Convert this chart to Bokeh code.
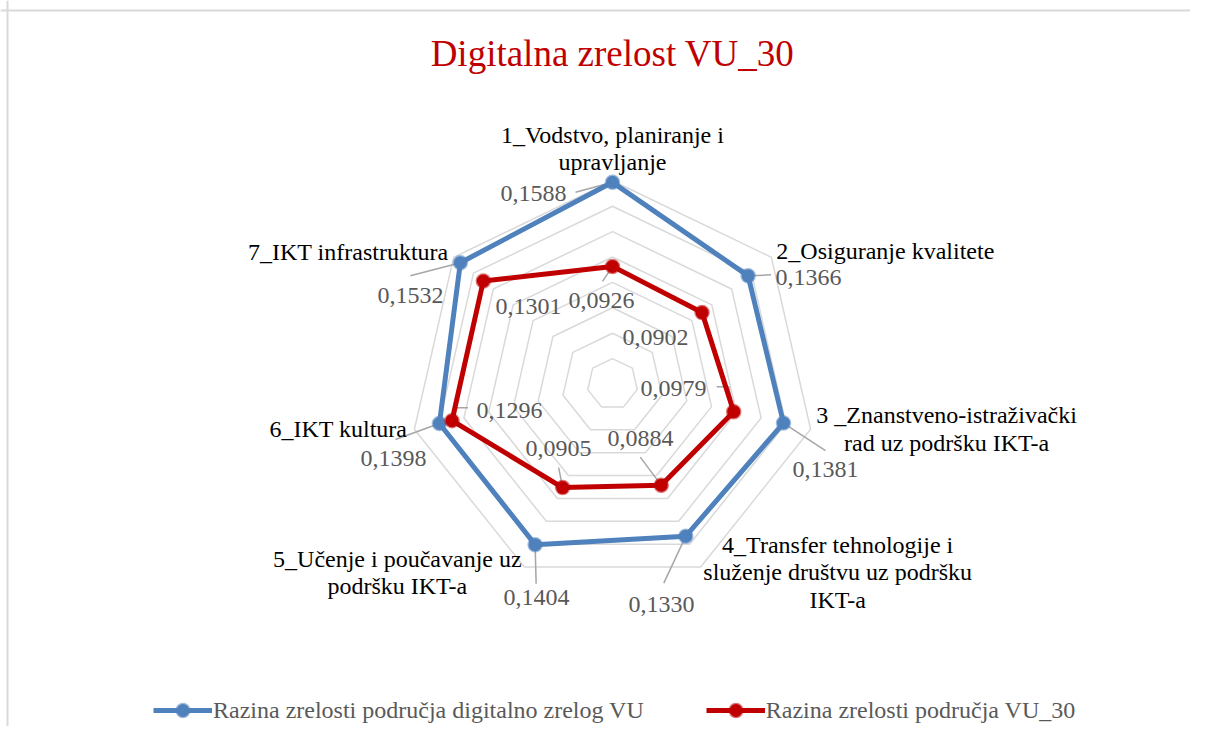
import numpy as np
from bokeh.plotting import figure
from bokeh.models import Range1d, Span, Legend, LegendItem, ColumnDataSource
from bokeh.core.properties import value
from bokeh.embed import file_html
from bokeh.resources import INLINE

# ---------------- data ----------------
title_text = "Digitalna zrelost VU_30"
categories = [
    "1_Vodstvo, planiranje i\nupravljanje",
    "2_Osiguranje kvalitete",
    "3 _Znanstveno-istraživački\nrad uz podršku IKT-a",
    "4_Transfer tehnologije i\nsluženje društvu uz podršku\nIKT-a",
    "5_Učenje i poučavanje uz\npodršku IKT-a",
    "6_IKT kultura",
    "7_IKT infrastruktura",
]
series_names = ["Razina zrelosti područja digitalno zrelog VU", "Razina zrelosti područja VU_30"]
digital_vu = [0.1588, 0.1366, 0.1381, 0.1330, 0.1404, 0.1398, 0.1532]
vu_30 = [0.0926, 0.0902, 0.0979, 0.0884, 0.0905, 0.1296, 0.1301]
ring_ticks = [0.02, 0.04, 0.06, 0.08, 0.10, 0.12, 0.14, 0.16]

# ---------------- style ----------------
W, H = 1190, 726
SCALE = 1270.0          # px per data unit
CX, CY = 612.0, 383.5   # centre inside the canvas (px from top-left)
FONT_NAME = "'Liberation Serif', 'Times New Roman', serif"
FONT = value(FONT_NAME)
BLUE, RED = "#4F81BD", "#C00000"
GRID = "#D9D9D9"
LABEL_GRAY = "#595959"
LEADER = "#A6A6A6"
LINE_STEP = 27.5        # px between lines of a category label

# category label: offset (px) of the block middle from outer-ring vertex, alignment
cat_off = [(0, -32.5), (5, -6), (136, 0), (137, 5), (-127, 5.4), (-7, 0), (-5, -5)]
cat_align = ["center", "left", "center", "center", "center", "right", "right"]

# data label offsets (px, left edge / vertical middle) from the point
blue_lab_off = [(-112, 11), (27.4, 1.7), (9, 46.5), (-57.3, 68), (-31.6, 52.9), (-79, 34.7), (-82.9, 32.5)]
red_lab_off = [(-44, 34.4), (-79.6, 25), (-93.2, -23.2), (-53.7, -46.7), (-37.1, -39), (24.5, -10.4), (12.2, 25.5)]
blue_leaders = [[(0, 0), (-37, 10)], [(0, 0), (23, -1)], [(0, 0), (42, 27.5)], [(0, 0), (-22, 47)],
                [(0, 0), (1, 39)], [(0, 0), (-44, 16)], [(0, 0), (-50, 13)]]
red_leaders = [[(0, 0), (-10, 15)], [], [(0, 0), (-5, -25), (-17, -25)], [(0, 0), (-21, -28)],
               [(0, 0), (-4, -20)], [(0, 0), (5, -13), (16, -13)], []]

# ---------------- figure ----------------
x0 = -CX / SCALE
y1 = CY / SCALE
p = figure(width=W, height=H, output_backend="svg", toolbar_location=None,
           x_range=Range1d(x0, x0 + W / SCALE), y_range=Range1d(y1 - H / SCALE, y1),
           min_border=0, outline_line_color=None)
p.axis.visible = False
p.grid.visible = False
p.background_fill_color = "white"
p.border_fill_color = "white"

n = len(categories)
theta = np.arange(n) * 2 * np.pi / n
sin_t, cos_t = np.sin(theta), np.cos(theta)

def polar(vals):
    v = np.asarray(vals)
    return v * sin_t, v * cos_t

# chart border (top and left)
p.add_layout(Span(location=y1 - 10 / SCALE, dimension="width", line_color=GRID, line_width=2))
p.add_layout(Span(location=x0 + 7 / SCALE, dimension="height", line_color=GRID, line_width=2))

# grid rings
ring_xs, ring_ys = [], []
for t in ring_ticks:
    gx, gy = polar([t] * n)
    ring_xs.append(list(gx) + [gx[0]])
    ring_ys.append(list(gy) + [gy[0]])
p.multi_line(ring_xs, ring_ys, line_color=GRID, line_width=1.5)

# leader lines
def leaders(vals, offs):
    px, py = polar(vals)
    xs, ys = [], []
    for i, o in enumerate(offs):
        if not o:
            continue
        xs.append([px[i] + dx / SCALE for dx, dy in o])
        ys.append([py[i] - dy / SCALE for dx, dy in o])
    return xs, ys

for vals, offs in ((digital_vu, blue_leaders), (vu_30, red_leaders)):
    lx, ly = leaders(vals, offs)
    p.multi_line(lx, ly, line_color=LEADER, line_width=1.5)

# series
renderers = []
for vals, col in ((digital_vu, BLUE), (vu_30, RED)):
    sx, sy = polar(vals)
    lr = p.line(list(sx) + [sx[0]], list(sy) + [sy[0]], line_color=col, line_width=5, line_join="round")
    mr = p.scatter(sx, sy, size=13, fill_color=col, line_color=col, line_alpha=0.55, line_width=2.5)
    renderers.append((lr, mr))

# data labels
def fmt(v):
    return f"{v:.4f}".replace(".", ",")

for vals, offs in ((digital_vu, blue_lab_off), (vu_30, red_lab_off)):
    px, py = polar(vals)
    src = ColumnDataSource(dict(x=px, y=py, t=[fmt(v) for v in vals],
                                xo=[o[0] for o in offs], yo=[o[1] for o in offs]))
    p.text(x="x", y="y", text="t", x_offset="xo", y_offset="yo", source=src,
           text_font=FONT, text_font_size="24px", text_color=LABEL_GRAY,
           text_align="left", text_baseline="middle")

# category labels at outer ring (each line drawn as its own single-line text)
ox, oy = polar([ring_ticks[-1]] * n)
cx_, cy_, ct, cxo, cyo, cal = [], [], [], [], [], []
for i, lab in enumerate(categories):
    lines = lab.split("\n")
    for j, ln in enumerate(lines):
        cx_.append(ox[i]); cy_.append(oy[i]); ct.append(ln)
        cxo.append(cat_off[i][0])
        cyo.append(cat_off[i][1] + (j - (len(lines) - 1) / 2) * LINE_STEP)
        cal.append(cat_align[i])
csrc = ColumnDataSource(dict(x=cx_, y=cy_, t=ct, xo=cxo, yo=cyo, al=cal))
p.text(x="x", y="y", text="t", x_offset="xo", y_offset="yo", text_align="al", source=csrc,
       text_font=FONT, text_font_size="24px", text_color="#000000", text_baseline="middle")

# title
p.text(x=[0], y=[y1 - 53 / SCALE], text=[title_text], text_font=FONT, text_font_size="37px",
       text_color=RED, text_align="center", text_baseline="middle")

# legend
legend = Legend(items=[LegendItem(label=series_names[i], renderers=list(renderers[i])) for i in range(2)],
                orientation="horizontal", location=(153, 0),
                glyph_width=59, glyph_height=32, label_height=32, label_standoff=1, spacing=62,
                padding=0, margin=0, border_line_color=None, background_fill_alpha=0,
                label_text_font=FONT_NAME, label_text_font_size="24px", label_text_color=LABEL_GRAY)
p.add_layout(legend, "center")

open("out.html", "w").write(file_html(p, INLINE))
